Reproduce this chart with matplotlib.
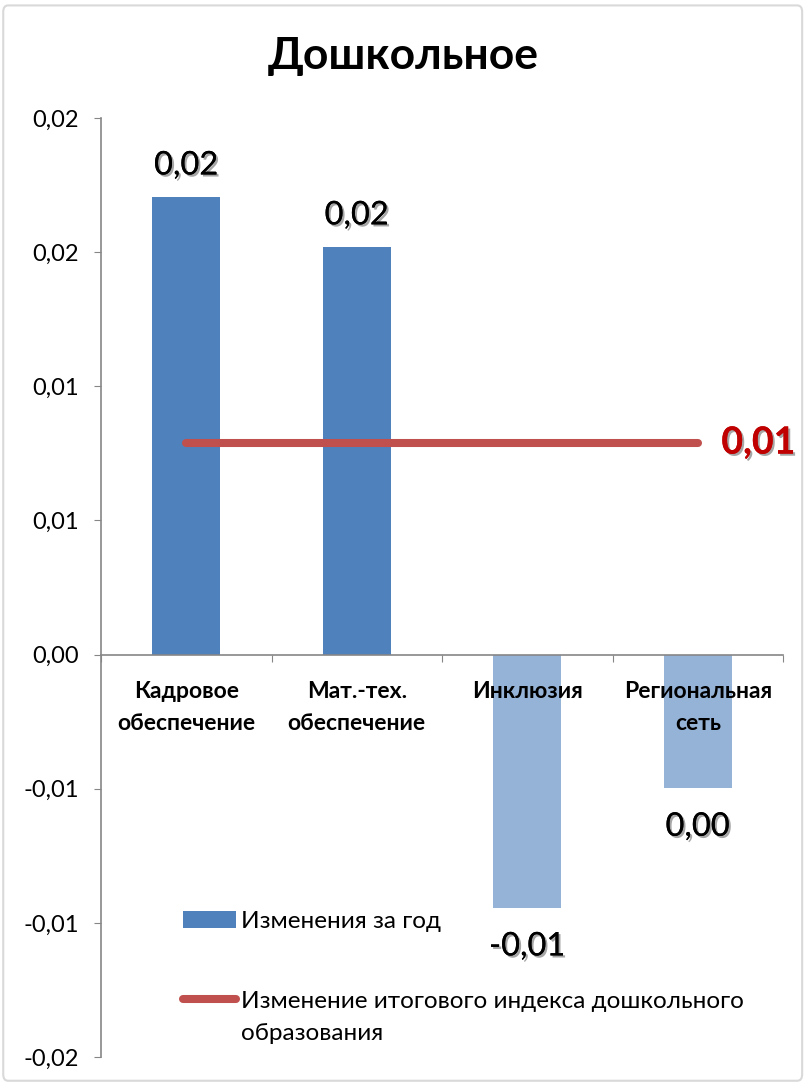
import matplotlib
matplotlib.use("Agg")
import matplotlib.pyplot as plt
import matplotlib.patheffects as pe
from matplotlib.patches import FancyBboxPatch
from matplotlib.ticker import FuncFormatter, FixedLocator
from matplotlib.legend_handler import HandlerLine2D
from decimal import Decimal, ROUND_HALF_UP

plt.rcParams['font.family'] = ['Lato', 'DejaVu Sans']

# ---- data ----
categories = ["Кадровое\nобеспечение", "Мат.-тех.\nобеспечение", "Инклюзия", "Региональная\nсеть"]
changes = [0.01705, 0.01519, -0.00944, -0.00498]
total_change = [0.0079, 0.0079, 0.0079, 0.0079]
bar_colors = ["#4F81BD", "#4F81BD", "#95B3D7", "#95B3D7"]
title = "Дошкольное"
legend_labels = ["Изменения за год", "Изменение итогового индекса дошкольного\nобразования"]
y_ticks = [-0.015, -0.01, -0.005, 0.0, 0.005, 0.01, 0.015, 0.02]


def fmt(v):
    d = Decimal(f"{float(v):.6f}").quantize(Decimal("0.01"), rounding=ROUND_HALF_UP)
    if d == 0:
        d = Decimal("0.00")
    return str(d).replace(".", ",")


class FirstLineHandler(HandlerLine2D):
    """Places the legend line next to the first line of a two-line label."""
    def __init__(self, shift, **kw):
        super().__init__(**kw)
        self.shift = shift

    def create_artists(self, legend, orig_handle, xdescent, ydescent, width, height, fontsize, trans):
        return super().create_artists(legend, orig_handle, xdescent, ydescent - 2 * self.shift,
                                      width, height, fontsize, trans)


fig = plt.figure(figsize=(8.07, 10.84), dpi=100)
fig.patches.append(FancyBboxPatch((0.004, 0.003), 0.99, 0.992, boxstyle="round,pad=0,rounding_size=0.006",
                                  transform=fig.transFigure, fill=False, edgecolor="#D9D9D9", linewidth=1.5))
ax = fig.add_axes([101 / 807, 1 - 1057 / 1084, 682 / 807, (1057 - 118) / 1084])

x = list(range(len(categories)))
bars = ax.bar(x, changes, width=0.4, color=bar_colors, zorder=1)
line, = ax.plot(x, total_change, color="#C0504D", linewidth=5.8, solid_capstyle="round", zorder=3)

shadow = [pe.withSimplePatchShadow(offset=(1.5, -1.5), shadow_rgbFace="black", alpha=0.35), pe.Normal()]
for xi, v in zip(x, changes):
    off = 12 if v >= 0 else -17
    ax.annotate(fmt(v), (xi, v), xytext=(0, off), textcoords="offset points",
                ha="center", va="bottom" if v >= 0 else "top", fontsize=23.5, color="black",
                path_effects=shadow)
ax.annotate(fmt(total_change[-1]), (x[-1], total_change[-1]), xytext=(17, 0), textcoords="offset points",
            ha="left", va="center", fontsize=27, fontweight="bold", color="#C00000", path_effects=shadow)

ax.set_xlim(-0.5, len(categories) - 0.5)
ax.set_ylim(-0.015, 0.02)
ax.yaxis.set_major_locator(FixedLocator(y_ticks))
ax.yaxis.set_major_formatter(FuncFormatter(lambda v, p: fmt(v)))
ax.tick_params(axis="y", length=5, color="#868686", labelsize=17, pad=11, direction="out")

ax.spines["bottom"].set_position(("data", 0))
for s in ["top", "right"]:
    ax.spines[s].set_visible(False)
for s in ["left", "bottom"]:
    ax.spines[s].set_color("#868686")
    ax.spines[s].set_linewidth(1.2)

ax.set_xticks([i + 0.5 for i in range(-1, len(categories))])
ax.set_xticklabels([])
ax.tick_params(axis="x", which="major", length=5, color="#868686", direction="out")
ax.set_xticks(x, minor=True)
ax.set_xticklabels(categories, minor=True, fontsize=16.5, fontweight="bold", linespacing=1.65)
ax.tick_params(axis="x", which="minor", length=0, pad=19)

fig.suptitle(title, x=0.5, y=0.967, fontsize=32, fontweight="bold", va="top")

leg = ax.legend([bars[0], line], legend_labels, loc="upper left", bbox_to_anchor=(0.12, 0.155),
                frameon=False, fontsize=17.5, handlelength=2.2, handletextpad=0.2, labelspacing=2.4,
                borderpad=0, borderaxespad=0, handler_map={line: FirstLineHandler(shift=13)})
for t in leg.get_texts():
    t.set_linespacing(1.65)

fig.savefig("out.png", dpi=100)
